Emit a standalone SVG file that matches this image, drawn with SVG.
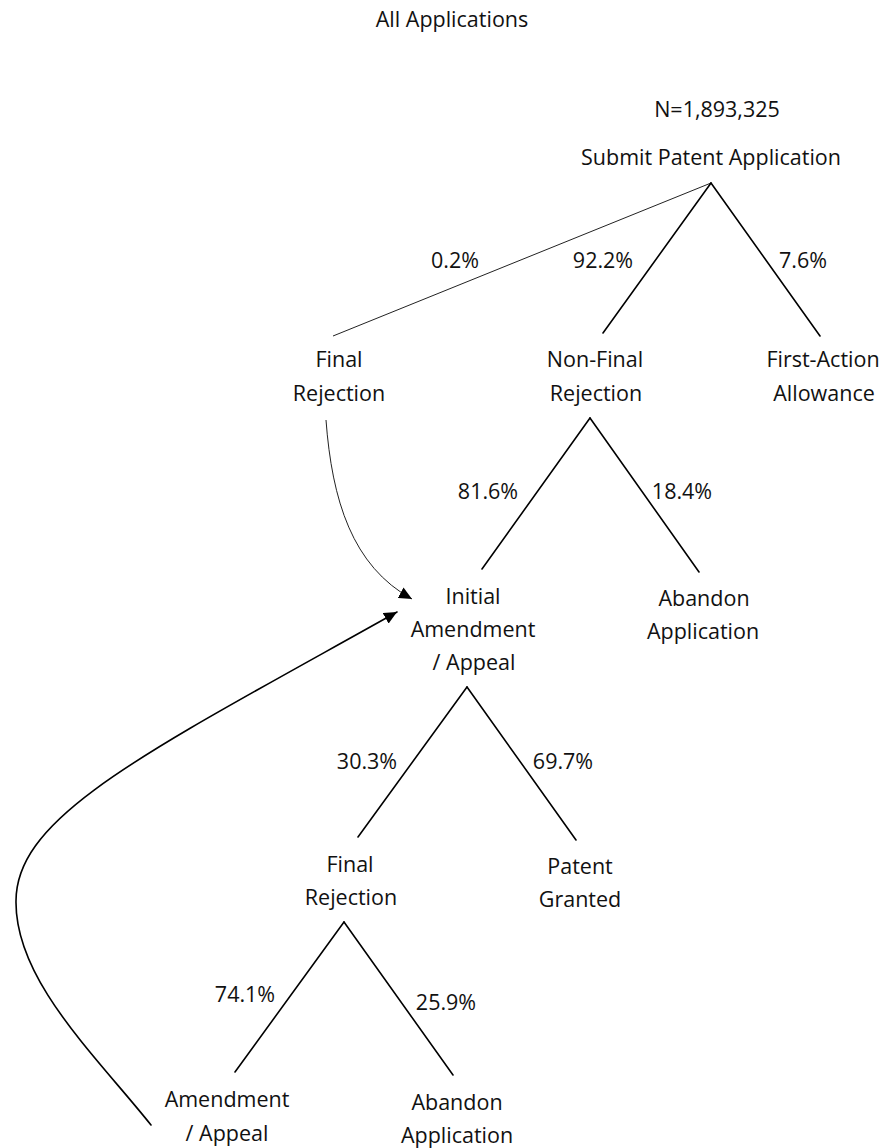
<svg xmlns="http://www.w3.org/2000/svg" width="884" height="1148" viewBox="0 0 884 1148">
  <style>
    .t { font-family: "Open Sans", "Noto Sans", "Liberation Sans", sans-serif; font-size: 21.5px; text-anchor: middle; fill: #111; }
    .edge { stroke: #000; stroke-width: 1.6; fill: none; stroke-linecap: round; }
    .thin { stroke: #222; stroke-width: 1; fill: none; }
  </style>
  <defs>
    <marker id="arrow" markerUnits="userSpaceOnUse" markerWidth="14" markerHeight="12" refX="13" refY="6" orient="auto">
      <path d="M0,0 L13,6 L0,12 z" fill="#000"/>
    </marker>
  </defs>
  <rect width="884" height="1148" fill="#fff"/>

  <g id="title">
    <text class="t" x="452" y="27">All Applications</text>
  </g>

  <g id="connectors">
    <line class="thin" x1="711" y1="183" x2="333" y2="336"/>
    <line class="edge" x1="711" y1="183" x2="603" y2="333"/>
    <line class="edge" x1="711" y1="183" x2="820" y2="336"/>
    <line class="edge" x1="590" y1="418" x2="482" y2="569"/>
    <line class="edge" x1="590" y1="418" x2="699" y2="572"/>
    <line class="edge" x1="467" y1="687" x2="358" y2="837"/>
    <line class="edge" x1="467" y1="687" x2="576" y2="840"/>
    <line class="edge" x1="344" y1="922" x2="235" y2="1072"/>
    <line class="edge" x1="344" y1="922" x2="453" y2="1075"/>
    <path class="thin" d="M326,420 C332,500 352,566 412,599" marker-end="url(#arrow)"/>
    <path class="edge" d="M151,1125 C96,1056 15,980 16,901 C16,815 147,752 397,612" marker-end="url(#arrow)"/>
    <text class="t" x="455" y="268">0.2%</text>
    <text class="t" x="603" y="268">92.2%</text>
    <text class="t" x="803" y="268">7.6%</text>
    <text class="t" x="488" y="499">81.6%</text>
    <text class="t" x="682" y="499">18.4%</text>
    <text class="t" x="367" y="769">30.3%</text>
    <text class="t" x="563" y="769">69.7%</text>
    <text class="t" x="245" y="1002">74.1%</text>
    <text class="t" x="446" y="1010">25.9%</text>
  </g>

  <g id="root">
    <text class="t" x="717" y="117">N=1,893,325</text>
    <text class="t" x="711" y="165">Submit Patent Application</text>
  </g>
  <g id="final-rejection-1">
    <text class="t" x="339" y="367">Final</text>
    <text class="t" x="339" y="401">Rejection</text>
  </g>
  <g id="non-final-rejection">
    <text class="t" x="595" y="367">Non-Final</text>
    <text class="t" x="596" y="401">Rejection</text>
  </g>
  <g id="first-action-allowance">
    <text class="t" x="823" y="367">First-Action</text>
    <text class="t" x="824" y="401">Allowance</text>
  </g>
  <g id="initial-amendment">
    <text class="t" x="473" y="604">Initial</text>
    <text class="t" x="473" y="637">Amendment</text>
    <text class="t" x="474" y="670">/ Appeal</text>
  </g>
  <g id="abandon-1">
    <text class="t" x="704" y="606">Abandon</text>
    <text class="t" x="703" y="639">Application</text>
  </g>
  <g id="final-rejection-2">
    <text class="t" x="350" y="872">Final</text>
    <text class="t" x="351" y="905">Rejection</text>
  </g>
  <g id="patent-granted">
    <text class="t" x="580" y="874">Patent</text>
    <text class="t" x="580" y="907">Granted</text>
  </g>
  <g id="amendment-appeal">
    <text class="t" x="227" y="1107">Amendment</text>
    <text class="t" x="227" y="1141">/ Appeal</text>
  </g>
  <g id="abandon-2">
    <text class="t" x="457" y="1110">Abandon</text>
    <text class="t" x="457" y="1143">Application</text>
  </g>
</svg>
